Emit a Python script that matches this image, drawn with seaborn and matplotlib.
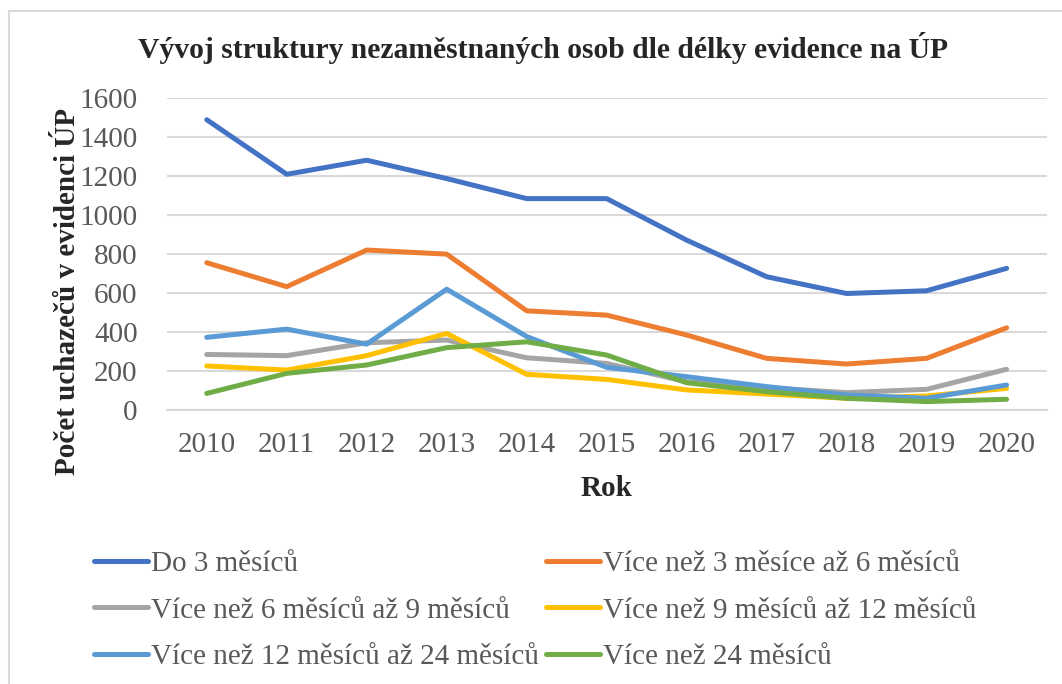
import pandas as pd
import seaborn as sns
import matplotlib.pyplot as plt
from matplotlib.patches import Rectangle

sns.set_style('white')
plt.rcParams['font.family'] = ['Liberation Serif', 'DejaVu Serif']

# data
roky = ['2010', '2011', '2012', '2013', '2014', '2015', '2016', '2017', '2018', '2019', '2020']
do_3 = [1490, 1210, 1282, 1188, 1085, 1085, 872, 684, 598, 612, 727]
m3_6 = [756, 633, 821, 800, 509, 487, 385, 265, 236, 265, 422]
m6_9 = [285, 279, 345, 359, 268, 239, 145, 115, 89, 106, 209]
m9_12 = [226, 205, 279, 393, 183, 157, 103, 82, 60, 72, 111]
m12_24 = [373, 415, 338, 620, 377, 219, 171, 120, 77, 60, 128]
m24 = [85, 188, 231, 320, 350, 282, 140, 94, 60, 43, 55]

nazvy = ['Do 3 měsíců', 'Více než 3 měsíce až 6 měsíců',
         'Více než 6 měsíců až 9 měsíců', 'Více než 9 měsíců až 12 měsíců',
         'Více než 12 měsíců až 24 měsíců', 'Více než 24 měsíců']
barvy = ['#4472C4', '#ED7D31', '#A5A5A5', '#FFC000', '#5B9BD5', '#70AD47']

#%%
frames = []
for nazev, hodnoty in zip(nazvy, [do_3, m3_6, m6_9, m9_12, m12_24, m24]):
    frames.append(pd.DataFrame({'Rok': roky, 'pocet': hodnoty, 'kategorie': nazev}))
df = pd.concat(frames)

fig = plt.figure(figsize=(10.62, 6.84), dpi=100)
ax = fig.add_axes([0.157, 0.4006, 0.8285, 0.4557])

sns.lineplot(data=df, x='Rok', y='pocet', hue='kategorie', hue_order=nazvy,
             palette=barvy, linewidth=3.6, ax=ax, legend=False, sort=False)

ax.set_ylim(0, 1600)
ax.set_xlim(-0.5, len(roky) - 0.5)
ax.set_yticks(range(0, 1601, 200))
ax.yaxis.grid(True, color='#D9D9D9', linewidth=1.5)
ax.set_axisbelow(True)
for s in ['top', 'right', 'left']:
    ax.spines[s].set_visible(False)
ax.spines['bottom'].set_color('#D9D9D9')
ax.spines['bottom'].set_linewidth(1.5)
ax.tick_params(axis='both', length=0, labelsize=21, labelcolor='#595959')
ax.tick_params(axis='y', pad=21)
ax.tick_params(axis='x', pad=16)

ax.set_xlabel('Rok', fontsize=21, fontweight='bold', labelpad=12)
ax.set_ylabel('Počet uchazečů v evidenci ÚP', fontsize=21, fontweight='bold')
ax.yaxis.set_label_coords(-0.0975, 0.38)
fig.text(0.511, 0.93, 'Vývoj struktury nezaměstnaných osob dle délky evidence na ÚP',
         ha='center', va='center', fontsize=21.3, fontweight='bold')

# legend goes row by row, matplotlib fills columns first
poradi = [0, 2, 4, 1, 3, 5]
handles = [plt.Line2D([], [], color=barvy[i], linewidth=3.6) for i in poradi]
fig.legend(handles, [nazvy[i] for i in poradi], loc='upper left',
           bbox_to_anchor=(0.0885, 0.195), borderpad=0, borderaxespad=0,
           ncol=2, frameon=False, fontsize=21, labelcolor='#595959',
           handlelength=1.85, handletextpad=0.1, columnspacing=0.25,
           labelspacing=0.69)

# chart border
fig.patches.append(Rectangle((9 / 1062, -0.1), 1.2, 1 - 11 / 684 + 0.1,
                             transform=fig.transFigure, fill=False,
                             edgecolor='#D9D9D9', linewidth=1.5))

fig.savefig('out.png', dpi=100)
